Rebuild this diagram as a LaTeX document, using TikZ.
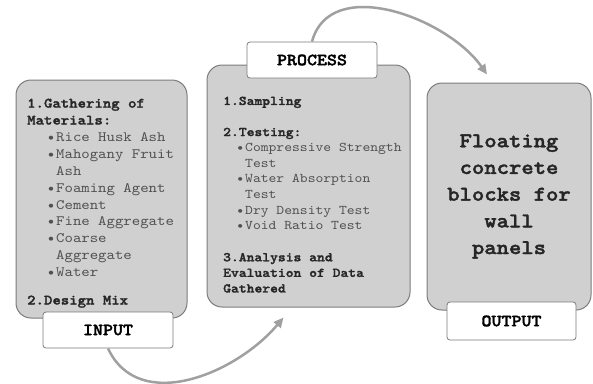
\documentclass[tikz,border=0pt]{standalone}
\usepackage{fontspec}
\setmonofont{lmmono10-regular}[Extension=.otf, BoldFont=lmmonolt10-bold, FakeStretch=1.12, BoldFeatures={FakeBold=1.8}]
\usetikzlibrary{arrows.meta}

\definecolor{panelfill}{HTML}{D0D0D0}
\definecolor{paneledge}{HTML}{7C7C7C}
\definecolor{flowgray}{HTML}{A0A0A0}
\definecolor{itemgray}{HTML}{505050}

% bulleted entry and its wrapped continuation
\newlength{\itemind}
\newcommand{\itm}[1]{\hspace*{\itemind}\llap{\color{itemgray}\textbullet\hspace{1pt}}{\color{itemgray}#1}}
\newcommand{\cnt}[1]{\hspace*{\itemind}{\color{itemgray}#1}}

\begin{document}
\begin{tikzpicture}[x=1pt, y=1pt,
  panel/.style={draw=paneledge, fill=panelfill, rounded corners=15pt, line width=1pt},
  tag/.style={draw=paneledge, fill=white, rounded corners=3pt, line width=0.8pt, minimum width=130pt, minimum height=36pt, font=\fontsize{17}{18}\selectfont\ttfamily\bfseries},
  list/.style={anchor=north west, align=left, inner sep=0pt, text=black!85},
  flow/.style={-{Triangle[length=10pt,width=9pt]}, flowgray, line width=2.5pt}
]
\useasboundingbox (0,0) rectangle (593,-383);

% the three stages
\node[panel, minimum width=171pt, minimum height=238pt] (input) at (101.5,-199) {};
\node[panel, minimum width=203pt, minimum height=242pt] (process) at (308.5,-186) {};
\node[panel, minimum width=164pt, minimum height=227pt] (output) at (509,-196.5) {};

\setlength{\itemind}{29pt}
\node[list, font=\fontsize{14.3}{16.9}\selectfont\ttfamily] (intext) at (27,-98.5) {%
  \textbf{1.Gathering of}\\
  \textbf{Materials:}\\
  \itm{Rice Husk Ash}\\
  \itm{Mahogany Fruit}\\
  \cnt{Ash}\\
  \itm{Foaming Agent}\\
  \itm{Cement}\\
  \itm{Fine Aggregate}\\
  \itm{Coarse}\\
  \cnt{Aggregate}\\
  \itm{Water}\\[11pt]
  \textbf{2.Design Mix}};

\setlength{\itemind}{22pt}
\node[list, font=\fontsize{13.3}{15.6}\selectfont\ttfamily] (proctext) at (223,-96.5) {%
  \textbf{1.Sampling}\\[15.5pt]
  \textbf{2.Testing:}\\
  \itm{Compressive Strength}\\
  \cnt{Test}\\
  \itm{Water Absorption}\\
  \cnt{Test}\\
  \itm{Dry Density Test}\\
  \itm{Void Ratio Test}\\[16pt]
  \textbf{3.Analysis and}\\
  \textbf{Evaluation of Data}\\
  \textbf{Gathered}};

\node[align=center, text=black!85, font=\fontsize{21}{26.7}\selectfont\ttfamily\bfseries] (outtext) at (output.center) {Floating\\concrete\\blocks for\\wall\\panels};

% stage labels
\node[tag] (inlabel) at (108,-330) {INPUT};
\node[tag] (proclabel) at (312,-60) {PROCESS};
\node[tag, minimum width=129pt, minimum height=38pt] (outlabel) at (511.5,-321) {OUTPUT};

% curved arrows between stages
\draw[flow] (inlabel.south) to[out=-65, in=-130, looseness=1.05] ([xshift=-25pt,yshift=-10pt]process.south);
\draw[flow] (proclabel.north) to[out=75, in=125] ([xshift=-22pt,yshift=8pt]output.north);
\end{tikzpicture}
\end{document}
